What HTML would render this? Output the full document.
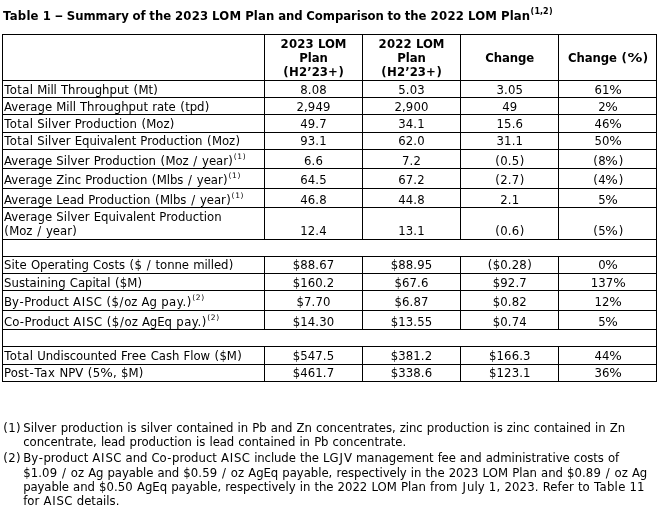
<!DOCTYPE html>
<html lang="en">
<head>
<meta charset="utf-8">
<title>Table 1 – Summary of the 2023 LOM Plan and Comparison to the 2022 LOM Plan</title>
<style>
html,body{margin:0;padding:0;background:#fff;}
body{width:671px;height:513px;position:relative;overflow:hidden;font-family:"DejaVu Sans","Liberation Sans",sans-serif;font-size:11.7px;color:#000;}
table{position:absolute;border-collapse:separate;border-spacing:0;table-layout:fixed;font:inherit;}
td,th{position:relative;padding:0;border:0 solid #000;border-width:1px 0 0 1px;font:inherit;}
td:last-child,th:last-child{border-right-width:1px;}
tr:last-child td{border-bottom-width:1px;}
h1,p{margin:0;font-size:inherit;font-weight:normal;}
.t{position:absolute;white-space:pre;line-height:14px;height:14px;}
.c{text-align:center;}
.b{font-weight:bold;}
.s,.sb{font-size:7.5px;position:relative;top:-6px;line-height:0;word-spacing:0;vertical-align:baseline;}
.sb{font-size:8.0px;}
</style>
</head>
<body>

<h1 class="t b" style="left:3px;top:9px;word-spacing:-0.28px"><span style="letter-spacing:0.22px">Table</span> <span style="letter-spacing:0.18px;margin:0 -0.09px 0 0.09px">1</span> <span style="display:inline-block;transform:scaleX(1.424);margin:0 1.24px">–</span> <span style="letter-spacing:-0.05px">Summary</span> <span style="letter-spacing:-0.07px">of</span> the <span style="letter-spacing:0.19px">2023</span> <span style="letter-spacing:0.23px">LOM</span> <span style="letter-spacing:0.11px">Plan</span> <span style="letter-spacing:-0.08px">and</span> <span style="letter-spacing:-0.07px">Comparison</span> <span style="letter-spacing:-0.13px">to</span> the <span style="letter-spacing:0.31px;margin:0 -0.16px 0 0.16px">2022</span> <span style="letter-spacing:0.23px">LOM</span> <span style="letter-spacing:0.11px">Plan</span><sup class="sb"><span style="letter-spacing:0.63px;margin:0 -0.32px 0 0.32px">(</span><span style="letter-spacing:-0.03px">1,2</span><span style="letter-spacing:0.63px;margin:0 -0.32px 0 0.32px">)</span></sup></h1>
<table style="left:2px;top:34px;width:655px">
<colgroup><col style="width:262px"><col style="width:98px"><col style="width:98px"><col style="width:98px"><col style="width:99px"></colgroup>
<tr style="height:46px">
<th></th>
<th><div class="t b" style="left:15.62px;top:2px;word-spacing:-0.08px"><span style="letter-spacing:0.19px">2023</span> <span style="letter-spacing:-0.04px">LOM</span></div><div class="t b" style="left:34.14px;top:16px;word-spacing:-0.08px">Plan</div><div class="t b" style="left:17.76px;top:30px;word-spacing:-0.08px"><span style="letter-spacing:1.01px;margin:0 -0.5px 0 0.5px">(</span><span style="letter-spacing:0.06px">H2’23+</span><span style="letter-spacing:1.01px;margin:0 -0.5px 0 0.5px">)</span></div></th>
<th><div class="t b" style="left:15.62px;top:2px;word-spacing:-0.08px"><span style="letter-spacing:0.19px">2022</span> <span style="letter-spacing:-0.04px">LOM</span></div><div class="t b" style="left:34.14px;top:16px;word-spacing:-0.08px">Plan</div><div class="t b" style="left:17.76px;top:30px;word-spacing:-0.08px"><span style="letter-spacing:1.01px;margin:0 -0.5px 0 0.5px">(</span><span style="letter-spacing:0.06px">H2’23+</span><span style="letter-spacing:1.01px;margin:0 -0.5px 0 0.5px">)</span></div></th>
<th><div class="t b" style="left:24.35px;top:16px;word-spacing:-0.08px"><span style="letter-spacing:-0.09px">Change</span></div></th>
<th><div class="t b" style="left:9.06px;top:16px;word-spacing:-0.08px"><span style="letter-spacing:-0.09px">Change</span> <span style="letter-spacing:1.01px;margin:0 -0.5px 0 0.5px">(</span><span style="display:inline-block;transform:scaleX(1.269);margin:0 1.58px">%</span><span style="letter-spacing:1.01px;margin:0 -0.5px 0 0.5px">)</span></div></th>
</tr>
<tr style="height:17px">
<td><div class="t" style="left:1px;top:2px;word-spacing:0.4px"><span style="letter-spacing:0.37px;margin:0 -0.19px 0 0.19px">Total</span> <span style="letter-spacing:-0.09px">Mill</span> <span style="letter-spacing:0.02px">Throughput</span> <span style="letter-spacing:0.75px;margin:0 -0.37px 0 0.37px">(</span><span style="letter-spacing:-0.1px">Mt</span><span style="letter-spacing:0.75px;margin:0 -0.37px 0 0.37px">)</span></div></td>
<td><div class="t" style="left:35.21px;top:2px;word-spacing:0.4px"><span style="letter-spacing:0.14px">8.08</span></div></td>
<td><div class="t" style="left:35.21px;top:2px;word-spacing:0.4px"><span style="letter-spacing:0.14px">5.03</span></div></td>
<td><div class="t" style="left:35.51px;top:2px;word-spacing:0.4px"><span style="letter-spacing:0.14px">3.05</span></div></td>
<td><div class="t" style="left:35.56px;top:2px;word-spacing:0.4px">61<span style="display:inline-block;transform:scaleX(1.133);margin:0 0.74px">%</span></div></td>
</tr>
<tr style="height:17px">
<td><div class="t" style="left:1px;top:2px;word-spacing:0.4px"><span style="letter-spacing:0.03px">Average</span> <span style="letter-spacing:-0.09px">Mill</span> <span style="letter-spacing:0.02px">Throughput</span> <span style="letter-spacing:-0.03px">rate</span> <span style="letter-spacing:0.75px;margin:0 -0.37px 0 0.37px">(</span><span style="letter-spacing:-0.08px">tpd</span><span style="letter-spacing:0.75px;margin:0 -0.37px 0 0.37px">)</span></div></td>
<td><div class="t" style="left:31.49px;top:2px;word-spacing:0.4px"><span style="letter-spacing:0.11px">2,949</span></div></td>
<td><div class="t" style="left:31.49px;top:2px;word-spacing:0.4px"><span style="letter-spacing:0.11px">2,900</span></div></td>
<td><div class="t" style="left:41.36px;top:2px;word-spacing:0.4px">49</div></td>
<td><div class="t" style="left:39.28px;top:2px;word-spacing:0.4px">2<span style="display:inline-block;transform:scaleX(1.133);margin:0 0.74px">%</span></div></td>
</tr>
<tr style="height:18px">
<td><div class="t" style="left:1px;top:2px;word-spacing:0.4px"><span style="letter-spacing:0.37px;margin:0 -0.19px 0 0.19px">Total</span> <span style="letter-spacing:0.08px">Silver</span> Production <span style="letter-spacing:0.75px;margin:0 -0.37px 0 0.37px">(</span><span style="letter-spacing:-0.09px">Moz</span><span style="letter-spacing:0.75px;margin:0 -0.37px 0 0.37px">)</span></div></td>
<td><div class="t" style="left:35.21px;top:2px;word-spacing:0.4px"><span style="letter-spacing:0.14px">49.7</span></div></td>
<td><div class="t" style="left:35.21px;top:2px;word-spacing:0.4px"><span style="letter-spacing:0.14px">34.1</span></div></td>
<td><div class="t" style="left:35.51px;top:2px;word-spacing:0.4px"><span style="letter-spacing:0.14px">15.6</span></div></td>
<td><div class="t" style="left:35.56px;top:2px;word-spacing:0.4px">46<span style="display:inline-block;transform:scaleX(1.133);margin:0 0.74px">%</span></div></td>
</tr>
<tr style="height:17px">
<td><div class="t" style="left:1px;top:1px;word-spacing:0.4px"><span style="letter-spacing:0.37px;margin:0 -0.19px 0 0.19px">Total</span> <span style="letter-spacing:0.08px">Silver</span> <span style="letter-spacing:-0.05px">Equivalent</span> Production <span style="letter-spacing:0.75px;margin:0 -0.37px 0 0.37px">(</span><span style="letter-spacing:-0.09px">Moz</span><span style="letter-spacing:0.75px;margin:0 -0.37px 0 0.37px">)</span></div></td>
<td><div class="t" style="left:35.21px;top:1px;word-spacing:0.4px"><span style="letter-spacing:0.14px">93.1</span></div></td>
<td><div class="t" style="left:35.21px;top:1px;word-spacing:0.4px"><span style="letter-spacing:0.14px">62.0</span></div></td>
<td><div class="t" style="left:35.51px;top:1px;word-spacing:0.4px"><span style="letter-spacing:0.14px">31.1</span></div></td>
<td><div class="t" style="left:35.56px;top:1px;word-spacing:0.4px">50<span style="display:inline-block;transform:scaleX(1.133);margin:0 0.74px">%</span></div></td>
</tr>
<tr style="height:19px">
<td><div class="t" style="left:1px;top:4px;word-spacing:0.4px"><span style="letter-spacing:0.03px">Average</span> <span style="letter-spacing:0.08px">Silver</span> Production <span style="letter-spacing:0.75px;margin:0 -0.37px 0 0.37px">(</span><span style="letter-spacing:-0.09px">Moz</span> <span style="letter-spacing:1.36px;margin:0 -0.68px 0 0.68px">/</span> <span style="letter-spacing:-0.04px">year</span><span style="letter-spacing:0.75px;margin:0 -0.37px 0 0.37px">)</span><sup class="s"><span style="letter-spacing:0.83px;margin:0 -0.42px 0 0.42px">(</span><span style="letter-spacing:0.5px;margin:0 -0.25px 0 0.25px">1</span><span style="letter-spacing:0.83px;margin:0 -0.42px 0 0.42px">)</span></sup></div></td>
<td><div class="t" style="left:38.93px;top:4px;word-spacing:0.4px"><span style="letter-spacing:0.18px">6.6</span></div></td>
<td><div class="t" style="left:38.93px;top:4px;word-spacing:0.4px"><span style="letter-spacing:0.18px">7.2</span></div></td>
<td><div class="t" style="left:33.92px;top:4px;word-spacing:0.4px"><span style="letter-spacing:0.75px;margin:0 -0.37px 0 0.37px">(</span><span style="letter-spacing:0.18px">0.5</span><span style="letter-spacing:0.75px;margin:0 -0.37px 0 0.37px">)</span></div></td>
<td><div class="t" style="left:33.97px;top:4px;word-spacing:0.4px"><span style="letter-spacing:0.75px;margin:0 -0.37px 0 0.37px">(</span>8<span style="display:inline-block;transform:scaleX(1.133);margin:0 0.74px">%</span><span style="letter-spacing:0.75px;margin:0 -0.37px 0 0.37px">)</span></div></td>
</tr>
<tr style="height:20px">
<td><div class="t" style="left:1px;top:4px;word-spacing:0.4px"><span style="letter-spacing:0.03px">Average</span> <span style="letter-spacing:-0.09px">Zinc</span> Production <span style="letter-spacing:0.75px;margin:0 -0.37px 0 0.37px">(</span><span style="letter-spacing:-0.1px">Mlbs</span> <span style="letter-spacing:1.36px;margin:0 -0.68px 0 0.68px">/</span> <span style="letter-spacing:-0.04px">year</span><span style="letter-spacing:0.75px;margin:0 -0.37px 0 0.37px">)</span><sup class="s"><span style="letter-spacing:0.83px;margin:0 -0.42px 0 0.42px">(</span><span style="letter-spacing:0.5px;margin:0 -0.25px 0 0.25px">1</span><span style="letter-spacing:0.83px;margin:0 -0.42px 0 0.42px">)</span></sup></div></td>
<td><div class="t" style="left:35.21px;top:4px;word-spacing:0.4px"><span style="letter-spacing:0.14px">64.5</span></div></td>
<td><div class="t" style="left:35.21px;top:4px;word-spacing:0.4px"><span style="letter-spacing:0.14px">67.2</span></div></td>
<td><div class="t" style="left:33.92px;top:4px;word-spacing:0.4px"><span style="letter-spacing:0.75px;margin:0 -0.37px 0 0.37px">(</span><span style="letter-spacing:0.18px">2.7</span><span style="letter-spacing:0.75px;margin:0 -0.37px 0 0.37px">)</span></div></td>
<td><div class="t" style="left:33.97px;top:4px;word-spacing:0.4px"><span style="letter-spacing:0.75px;margin:0 -0.37px 0 0.37px">(</span>4<span style="display:inline-block;transform:scaleX(1.133);margin:0 0.74px">%</span><span style="letter-spacing:0.75px;margin:0 -0.37px 0 0.37px">)</span></div></td>
</tr>
<tr style="height:19px">
<td><div class="t" style="left:1px;top:4px;word-spacing:0.4px"><span style="letter-spacing:0.03px">Average</span> <span style="letter-spacing:-0.07px">Lead</span> Production <span style="letter-spacing:0.75px;margin:0 -0.37px 0 0.37px">(</span><span style="letter-spacing:-0.1px">Mlbs</span> <span style="letter-spacing:1.36px;margin:0 -0.68px 0 0.68px">/</span> <span style="letter-spacing:-0.04px">year</span><span style="letter-spacing:0.75px;margin:0 -0.37px 0 0.37px">)</span><sup class="s"><span style="letter-spacing:0.83px;margin:0 -0.42px 0 0.42px">(</span><span style="letter-spacing:0.5px;margin:0 -0.25px 0 0.25px">1</span><span style="letter-spacing:0.83px;margin:0 -0.42px 0 0.42px">)</span></sup></div></td>
<td><div class="t" style="left:35.21px;top:4px;word-spacing:0.4px"><span style="letter-spacing:0.14px">46.8</span></div></td>
<td><div class="t" style="left:35.21px;top:4px;word-spacing:0.4px"><span style="letter-spacing:0.14px">44.8</span></div></td>
<td><div class="t" style="left:39.23px;top:4px;word-spacing:0.4px"><span style="letter-spacing:0.18px">2.1</span></div></td>
<td><div class="t" style="left:39.28px;top:4px;word-spacing:0.4px">5<span style="display:inline-block;transform:scaleX(1.133);margin:0 0.74px">%</span></div></td>
</tr>
<tr style="height:32px">
<td><div class="t" style="left:1px;top:2px;word-spacing:0.4px"><span style="letter-spacing:0.03px">Average</span> <span style="letter-spacing:0.08px">Silver</span> <span style="letter-spacing:-0.05px">Equivalent</span> Production</div><div class="t" style="left:1px;top:16px;word-spacing:0.4px"><span style="letter-spacing:0.75px;margin:0 -0.37px 0 0.37px">(</span><span style="letter-spacing:-0.09px">Moz</span> <span style="letter-spacing:1.36px;margin:0 -0.68px 0 0.68px">/</span> <span style="letter-spacing:-0.04px">year</span><span style="letter-spacing:0.75px;margin:0 -0.37px 0 0.37px">)</span></div></td>
<td><div class="t" style="left:35.21px;top:16px;word-spacing:0.4px"><span style="letter-spacing:0.14px">12.4</span></div></td>
<td><div class="t" style="left:35.21px;top:16px;word-spacing:0.4px"><span style="letter-spacing:0.14px">13.1</span></div></td>
<td><div class="t" style="left:33.92px;top:16px;word-spacing:0.4px"><span style="letter-spacing:0.75px;margin:0 -0.37px 0 0.37px">(</span><span style="letter-spacing:0.18px">0.6</span><span style="letter-spacing:0.75px;margin:0 -0.37px 0 0.37px">)</span></div></td>
<td><div class="t" style="left:33.97px;top:16px;word-spacing:0.4px"><span style="letter-spacing:0.75px;margin:0 -0.37px 0 0.37px">(</span>5<span style="display:inline-block;transform:scaleX(1.133);margin:0 0.74px">%</span><span style="letter-spacing:0.75px;margin:0 -0.37px 0 0.37px">)</span></div></td>
</tr>
<tr style="height:17px">
<td colspan="5"></td>
</tr>
<tr style="height:17px">
<td><div class="t" style="left:1px;top:1px;word-spacing:0.4px"><span style="letter-spacing:0.08px">Site</span> <span style="letter-spacing:-0.05px">Operating</span> Costs <span style="letter-spacing:0.75px;margin:0 -0.37px 0 0.37px">(</span>$ <span style="letter-spacing:1.36px;margin:0 -0.68px 0 0.68px">/</span> <span style="letter-spacing:-0.05px">tonne</span> <span style="letter-spacing:-0.08px">milled</span><span style="letter-spacing:0.75px;margin:0 -0.37px 0 0.37px">)</span></div></td>
<td><div class="t" style="left:27.77px;top:1px;word-spacing:0.4px"><span style="letter-spacing:0.09px">$88.67</span></div></td>
<td><div class="t" style="left:27.77px;top:1px;word-spacing:0.4px"><span style="letter-spacing:0.09px">$88.95</span></div></td>
<td><div class="t" style="left:26.48px;top:1px;word-spacing:0.4px"><span style="letter-spacing:0.75px;margin:0 -0.37px 0 0.37px">(</span><span style="letter-spacing:0.11px">$0.28</span><span style="letter-spacing:0.75px;margin:0 -0.37px 0 0.37px">)</span></div></td>
<td><div class="t" style="left:39.28px;top:1px;word-spacing:0.4px">0<span style="display:inline-block;transform:scaleX(1.133);margin:0 0.74px">%</span></div></td>
</tr>
<tr style="height:17px">
<td><div class="t" style="left:1px;top:2px;word-spacing:0.4px"><span style="letter-spacing:0.03px">Sustaining</span> <span style="letter-spacing:-0.06px">Capital</span> <span style="letter-spacing:0.75px;margin:0 -0.37px 0 0.37px">(</span><span style="letter-spacing:-0.11px">$M</span><span style="letter-spacing:0.75px;margin:0 -0.37px 0 0.37px">)</span></div></td>
<td><div class="t" style="left:27.77px;top:2px;word-spacing:0.4px"><span style="letter-spacing:0.09px">$160.2</span></div></td>
<td><div class="t" style="left:31.49px;top:2px;word-spacing:0.4px"><span style="letter-spacing:0.11px">$67.6</span></div></td>
<td><div class="t" style="left:31.79px;top:2px;word-spacing:0.4px"><span style="letter-spacing:0.11px">$92.7</span></div></td>
<td><div class="t" style="left:31.84px;top:2px;word-spacing:0.4px">137<span style="display:inline-block;transform:scaleX(1.133);margin:0 0.74px">%</span></div></td>
</tr>
<tr style="height:20px">
<td><div class="t" style="left:1px;top:4px;word-spacing:0.4px">By<span style="letter-spacing:1.09px;margin:0 -0.55px 0 0.55px">-</span><span style="letter-spacing:0.02px">Product</span> A<span style="letter-spacing:1.47px;margin:0 -0.74px 0 0.74px">I</span><span style="letter-spacing:0.29px;margin:0 -0.14px 0 0.14px">SC</span> <span style="letter-spacing:0.75px;margin:0 -0.37px 0 0.37px">(</span>$<span style="letter-spacing:1.36px;margin:0 -0.68px 0 0.68px">/</span><span style="letter-spacing:-0.03px">oz</span> <span style="letter-spacing:-0.06px">Ag</span> <span style="letter-spacing:0.49px;margin:0 -0.24px 0 0.24px">pay.</span><span style="letter-spacing:0.75px;margin:0 -0.37px 0 0.37px">)</span><sup class="s"><span style="letter-spacing:0.83px;margin:0 -0.42px 0 0.42px">(</span><span style="letter-spacing:0.5px;margin:0 -0.25px 0 0.25px">2</span><span style="letter-spacing:0.83px;margin:0 -0.42px 0 0.42px">)</span></sup></div></td>
<td><div class="t" style="left:31.49px;top:4px;word-spacing:0.4px"><span style="letter-spacing:0.11px">$7.70</span></div></td>
<td><div class="t" style="left:31.49px;top:4px;word-spacing:0.4px"><span style="letter-spacing:0.11px">$6.87</span></div></td>
<td><div class="t" style="left:31.79px;top:4px;word-spacing:0.4px"><span style="letter-spacing:0.11px">$0.82</span></div></td>
<td><div class="t" style="left:35.56px;top:4px;word-spacing:0.4px">12<span style="display:inline-block;transform:scaleX(1.133);margin:0 0.74px">%</span></div></td>
</tr>
<tr style="height:19px">
<td><div class="t" style="left:1px;top:4px;word-spacing:0.4px"><span style="letter-spacing:-0.02px">Co</span><span style="letter-spacing:1.09px;margin:0 -0.55px 0 0.55px">-</span><span style="letter-spacing:0.02px">Product</span> A<span style="letter-spacing:1.47px;margin:0 -0.74px 0 0.74px">I</span><span style="letter-spacing:0.29px;margin:0 -0.14px 0 0.14px">SC</span> <span style="letter-spacing:0.75px;margin:0 -0.37px 0 0.37px">(</span>$<span style="letter-spacing:1.36px;margin:0 -0.68px 0 0.68px">/</span><span style="letter-spacing:-0.03px">oz</span> <span style="letter-spacing:-0.06px">AgEq</span> <span style="letter-spacing:0.49px;margin:0 -0.24px 0 0.24px">pay.</span><span style="letter-spacing:0.75px;margin:0 -0.37px 0 0.37px">)</span><sup class="s"><span style="letter-spacing:0.83px;margin:0 -0.42px 0 0.42px">(</span><span style="letter-spacing:0.5px;margin:0 -0.25px 0 0.25px">2</span><span style="letter-spacing:0.83px;margin:0 -0.42px 0 0.42px">)</span></sup></div></td>
<td><div class="t" style="left:27.77px;top:4px;word-spacing:0.4px"><span style="letter-spacing:0.09px">$14.30</span></div></td>
<td><div class="t" style="left:27.77px;top:4px;word-spacing:0.4px"><span style="letter-spacing:0.09px">$13.55</span></div></td>
<td><div class="t" style="left:31.79px;top:4px;word-spacing:0.4px"><span style="letter-spacing:0.11px">$0.74</span></div></td>
<td><div class="t" style="left:39.28px;top:4px;word-spacing:0.4px">5<span style="display:inline-block;transform:scaleX(1.133);margin:0 0.74px">%</span></div></td>
</tr>
<tr style="height:17px">
<td colspan="5"></td>
</tr>
<tr style="height:18px">
<td><div class="t" style="left:1px;top:2px;word-spacing:0.4px"><span style="letter-spacing:0.37px;margin:0 -0.19px 0 0.19px">Total</span> <span style="letter-spacing:-0.07px">Undiscounted</span> <span style="letter-spacing:0.21px">Free</span> <span style="letter-spacing:-0.03px">Cash</span> <span style="letter-spacing:-0.02px">Flow</span> <span style="letter-spacing:0.75px;margin:0 -0.37px 0 0.37px">(</span><span style="letter-spacing:-0.11px">$M</span><span style="letter-spacing:0.75px;margin:0 -0.37px 0 0.37px">)</span></div></td>
<td><div class="t" style="left:27.77px;top:2px;word-spacing:0.4px"><span style="letter-spacing:0.09px">$547.5</span></div></td>
<td><div class="t" style="left:27.77px;top:2px;word-spacing:0.4px"><span style="letter-spacing:0.09px">$381.2</span></div></td>
<td><div class="t" style="left:28.07px;top:2px;word-spacing:0.4px"><span style="letter-spacing:0.09px">$166.3</span></div></td>
<td><div class="t" style="left:35.56px;top:2px;word-spacing:0.4px">44<span style="display:inline-block;transform:scaleX(1.133);margin:0 0.74px">%</span></div></td>
</tr>
<tr style="height:18px">
<td><div class="t" style="left:1px;top:1px;word-spacing:0.4px"><span style="letter-spacing:0.1px">Post</span><span style="letter-spacing:1.09px;margin:0 -0.55px 0 0.55px">-</span><span style="letter-spacing:0.63px;margin:0 -0.31px 0 0.31px">Tax</span> NPV <span style="letter-spacing:0.75px;margin:0 -0.37px 0 0.37px">(</span>5<span style="display:inline-block;transform:scaleX(1.133);margin:0 0.74px">%</span><span style="letter-spacing:0.54px;margin:0 -0.27px 0 0.27px">,</span> <span style="letter-spacing:-0.11px">$M</span><span style="letter-spacing:0.75px;margin:0 -0.37px 0 0.37px">)</span></div></td>
<td><div class="t" style="left:27.77px;top:1px;word-spacing:0.4px"><span style="letter-spacing:0.09px">$461.7</span></div></td>
<td><div class="t" style="left:27.77px;top:1px;word-spacing:0.4px"><span style="letter-spacing:0.09px">$338.6</span></div></td>
<td><div class="t" style="left:28.07px;top:1px;word-spacing:0.4px"><span style="letter-spacing:0.09px">$123.1</span></div></td>
<td><div class="t" style="left:35.56px;top:1px;word-spacing:0.4px">36<span style="display:inline-block;transform:scaleX(1.133);margin:0 0.74px">%</span></div></td>
</tr>
</table>
<p class="t" style="left:3px;top:421px;word-spacing:0.4px"><span style="letter-spacing:0.75px;margin:0 -0.37px 0 0.37px">(</span>1<span style="letter-spacing:0.75px;margin:0 -0.37px 0 0.37px">)</span></p>
<p class="t" style="left:23.2px;top:421px;word-spacing:0.4px"><span style="letter-spacing:0.08px">Silver</span> <span style="letter-spacing:-0.03px">production</span> <span style="letter-spacing:-0.02px">is</span> silver <span style="letter-spacing:-0.1px">contained</span> <span style="letter-spacing:-0.02px">in</span> <span style="letter-spacing:-0.06px">Pb</span> <span style="letter-spacing:-0.09px">and</span> Zn <span style="letter-spacing:-0.04px">concentrates,</span> <span style="letter-spacing:-0.09px">zinc</span> <span style="letter-spacing:-0.03px">production</span> <span style="letter-spacing:-0.02px">is</span> <span style="letter-spacing:-0.09px">zinc</span> <span style="letter-spacing:-0.1px">contained</span> <span style="letter-spacing:-0.02px">in</span> Zn</p>
<p class="t" style="left:23.2px;top:435px;word-spacing:0.4px"><span style="letter-spacing:-0.04px">concentrate,</span> <span style="letter-spacing:-0.13px">lead</span> <span style="letter-spacing:-0.03px">production</span> <span style="letter-spacing:-0.02px">is</span> <span style="letter-spacing:-0.13px">lead</span> <span style="letter-spacing:-0.1px">contained</span> <span style="letter-spacing:-0.02px">in</span> <span style="letter-spacing:-0.06px">Pb</span> <span style="letter-spacing:-0.04px">concentrate.</span></p>
<p class="t" style="left:3px;top:451px;word-spacing:0.4px"><span style="letter-spacing:0.75px;margin:0 -0.37px 0 0.37px">(</span>2<span style="letter-spacing:0.75px;margin:0 -0.37px 0 0.37px">)</span></p>
<p class="t" style="left:23.2px;top:451px;word-spacing:0.4px">By<span style="letter-spacing:1.09px;margin:0 -0.55px 0 0.55px">-</span><span style="letter-spacing:-0.02px">product</span> A<span style="letter-spacing:1.47px;margin:0 -0.74px 0 0.74px">I</span><span style="letter-spacing:0.29px;margin:0 -0.14px 0 0.14px">SC</span> <span style="letter-spacing:-0.09px">and</span> <span style="letter-spacing:-0.02px">Co</span><span style="letter-spacing:1.09px;margin:0 -0.55px 0 0.55px">-</span><span style="letter-spacing:-0.02px">product</span> A<span style="letter-spacing:1.47px;margin:0 -0.74px 0 0.74px">I</span><span style="letter-spacing:0.29px;margin:0 -0.14px 0 0.14px">SC</span> <span style="letter-spacing:-0.11px">include</span> <span style="letter-spacing:-0.07px">the</span> LG<span style="letter-spacing:1.87px;margin:0 -0.94px 0 0.94px">J</span>V <span style="letter-spacing:-0.08px">management</span> <span style="letter-spacing:-0.15px">fee</span> <span style="letter-spacing:-0.09px">and</span> <span style="letter-spacing:-0.03px">administrative</span> <span style="letter-spacing:-0.07px">costs</span> <span style="letter-spacing:-0.02px">of</span></p>
<p class="t" style="left:23.2px;top:466px;word-spacing:0.4px"><span style="letter-spacing:0.11px">$1.09</span> <span style="letter-spacing:1.36px;margin:0 -0.68px 0 0.68px">/</span> <span style="letter-spacing:-0.03px">oz</span> <span style="letter-spacing:-0.06px">Ag</span> <span style="letter-spacing:-0.11px">payable</span> <span style="letter-spacing:-0.09px">and</span> <span style="letter-spacing:0.11px">$0.59</span> <span style="letter-spacing:1.36px;margin:0 -0.68px 0 0.68px">/</span> <span style="letter-spacing:-0.03px">oz</span> <span style="letter-spacing:-0.06px">AgEq</span> <span style="letter-spacing:-0.03px">payable,</span> <span style="letter-spacing:-0.06px">respectively</span> <span style="letter-spacing:-0.02px">in</span> <span style="letter-spacing:-0.07px">the</span> 2023 <span style="letter-spacing:0.07px">LOM</span> <span style="letter-spacing:-0.04px">Plan</span> <span style="letter-spacing:-0.09px">and</span> <span style="letter-spacing:0.11px">$0.89</span> <span style="letter-spacing:1.36px;margin:0 -0.68px 0 0.68px">/</span> <span style="letter-spacing:-0.03px">oz</span> <span style="letter-spacing:-0.06px">Ag</span></p>
<p class="t" style="left:23.2px;top:480px;word-spacing:0.4px"><span style="letter-spacing:-0.11px">payable</span> <span style="letter-spacing:-0.09px">and</span> <span style="letter-spacing:0.11px">$0.50</span> <span style="letter-spacing:-0.06px">AgEq</span> <span style="letter-spacing:-0.03px">payable,</span> <span style="letter-spacing:-0.06px">respectively</span> <span style="letter-spacing:-0.02px">in</span> <span style="letter-spacing:-0.07px">the</span> 2022 <span style="letter-spacing:0.07px">LOM</span> <span style="letter-spacing:-0.04px">Plan</span> <span style="letter-spacing:0.1px">from</span> <span style="letter-spacing:1.87px;margin:0 -0.94px 0 0.94px">J</span>uly <span style="letter-spacing:0.27px;margin:0 -0.14px 0 0.14px">1,</span> <span style="letter-spacing:0.11px">2023.</span> <span style="letter-spacing:0.06px">Refer</span> to <span style="letter-spacing:0.29px;margin:0 -0.15px 0 0.15px">Table</span> 11</p>
<p class="t" style="left:23.2px;top:494px;word-spacing:0.4px"><span style="letter-spacing:0.05px">for</span> A<span style="letter-spacing:1.47px;margin:0 -0.74px 0 0.74px">I</span><span style="letter-spacing:0.29px;margin:0 -0.14px 0 0.14px">SC</span> details.</p>
</body>
</html>
